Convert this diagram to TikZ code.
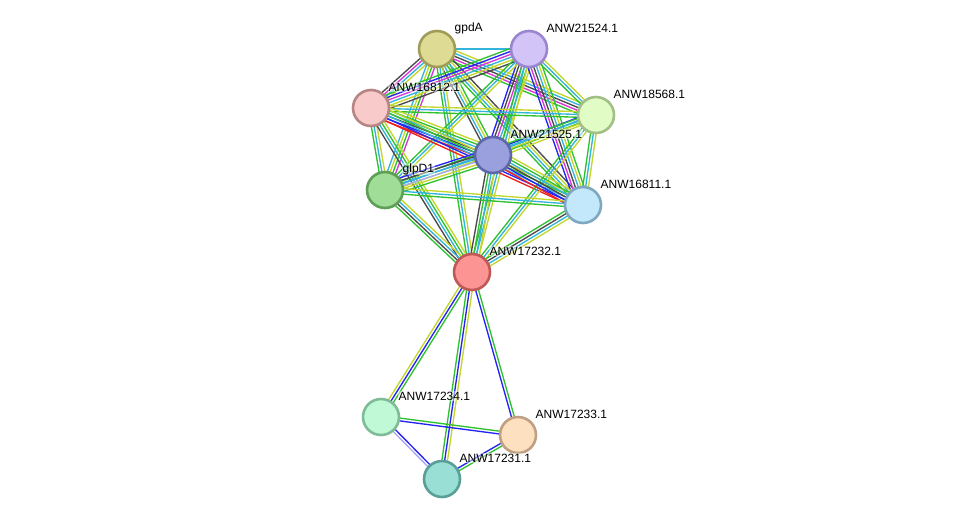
\documentclass[tikz,border=0pt]{standalone}
\usepackage{fontspec}
\setmainfont{Liberation Sans}
\usepackage{tikz}
\usetikzlibrary{positioning, calc, backgrounds}
% evidence colours
\definecolor{cGrn}{HTML}{2fc12f}
\definecolor{cYel}{HTML}{c3d62c}
\definecolor{cCyn}{HTML}{33b5d9}
\definecolor{cBlk}{HTML}{4a4a4a}
\definecolor{cBlu}{HTML}{2424f5}
\definecolor{cMag}{HTML}{d637d6}
\definecolor{cRed}{HTML}{f02020}
\definecolor{cLav}{HTML}{a8a8f0}
% protein colours
\definecolor{pGpd}{HTML}{dedb94}
\definecolor{pGpdB}{HTML}{a09d5a}
\definecolor{p524}{HTML}{d3c4f8}
\definecolor{p524B}{HTML}{9a85cf}
\definecolor{p812}{HTML}{f8caca}
\definecolor{p812B}{HTML}{b88585}
\definecolor{p568}{HTML}{e2fcc6}
\definecolor{p568B}{HTML}{a1bf86}
\definecolor{p525}{HTML}{99a0dd}
\definecolor{p525B}{HTML}{5d66a8}
\definecolor{pGlp}{HTML}{a0dd96}
\definecolor{pGlpB}{HTML}{5e9e57}
\definecolor{p811}{HTML}{c4e8fb}
\definecolor{p811B}{HTML}{7ea7c0}
\definecolor{p232}{HTML}{fc9494}
\definecolor{p232B}{HTML}{c05858}
\definecolor{p234}{HTML}{c0f9d6}
\definecolor{p234B}{HTML}{80bb98}
\definecolor{p233}{HTML}{fde0c0}
\definecolor{p233B}{HTML}{c0a083}
\definecolor{p231}{HTML}{9adfd6}
\definecolor{p231B}{HTML}{5a9f97}
\newcommand{\evid}[3]{%
  \foreach \ec [count=\ei] in {#3} {\xdef\evidN{\ei}}%
  \foreach \ec [count=\ei] in {#3} {%
    \pgfmathsetmacro{\eoff}{(\ei-(\evidN+1)/2)*2.8}%
    \draw[line width=1.35pt, draw=\ec] ($(#1)!\eoff pt!90:(#2)$) -- ($(#2)!\eoff pt!-90:(#1)$);
  }}

\begin{document}
\begin{tikzpicture}[x=1pt, y=-1pt, prot/.style={circle, minimum size=36pt, inner sep=0pt, line width=2.6pt},lbl/.style={font=\fontsize{12}{14}\selectfont, anchor=west, inner sep=0.5pt, fill=white, fill opacity=0.45, text opacity=1}]
\useasboundingbox (0,0) rectangle (976,525);
\node[prot, fill=pGpd, draw=pGpdB] (gpdA) at (437,49) {};
\node[prot, fill=p524, draw=p524B] (a524) at (529,49) {};
\node[prot, fill=p812, draw=p812B] (a812) at (371,108) {};
\node[prot, fill=p568, draw=p568B] (a568) at (596,115) {};
\node[prot, fill=p525, draw=p525B] (a525) at (493,155) {};
\node[prot, fill=pGlp, draw=pGlpB] (glpD) at (385,190) {};
\node[prot, fill=p811, draw=p811B] (a811) at (583,205) {};
\node[prot, fill=p232, draw=p232B] (a232) at (472,272) {};
\node[prot, fill=p234, draw=p234B] (a234) at (381,417) {};
\node[prot, fill=p233, draw=p233B] (a233) at (518,435) {};
\node[prot, fill=p231, draw=p231B] (a231) at (442,479) {};
\node[lbl] (gpdA-l) at ($(gpdA)+(17,-21)$) {gpdA};
\node[lbl] (a524-l) at ($(a524)+(17,-21)$) {ANW21524.1};
\node[lbl] (a812-l) at ($(a812)+(17,-21)$) {ANW16812.1};
\node[lbl] (a568-l) at ($(a568)+(17,-21)$) {ANW18568.1};
\node[lbl] (a525-l) at ($(a525)+(17,-21)$) {ANW21525.1};
\node[lbl] (glpD-l) at ($(glpD)+(17,-21)$) {glpD1};
\node[lbl] (a811-l) at ($(a811)+(17,-21)$) {ANW16811.1};
\node[lbl] (a232-l) at ($(a232)+(17,-21)$) {ANW17232.1};
\node[lbl] (a234-l) at ($(a234)+(17,-21)$) {ANW17234.1};
\node[lbl] (a233-l) at ($(a233)+(17,-21)$) {ANW17233.1};
\node[lbl] (a231-l) at ($(a231)+(17,-21)$) {ANW17231.1};
\begin{pgfonlayer}{background}
\evid{gpdA}{a524}{cCyn}
\evid{gpdA}{a812}{cBlk,cMag,cCyn,cYel}
\evid{gpdA}{a568}{cGrn,cMag,cBlk,cCyn,cYel}
\evid{gpdA}{a525}{cBlk,cCyn,cYel,cGrn}
\evid{gpdA}{glpD}{cCyn,cYel,cGrn,cMag}
\evid{gpdA}{a811}{cGrn,cCyn,cYel,cBlk}
\evid{gpdA}{a232}{cGrn,cCyn,cYel}
\evid{a524}{a812}{cGrn,cBlu,cMag,cCyn,cYel,cBlk}
\evid{a524}{a568}{cGrn,cCyn,cYel}
\evid{a524}{a525}{cBlu,cBlk,cMag,cCyn,cGrn,cYel}
\evid{a524}{glpD}{cGrn,cCyn,cYel}
\evid{a524}{a811}{cBlu,cMag,cBlk,cCyn,cYel,cGrn}
\evid{a524}{a232}{cGrn,cCyn,cYel}
\evid{a812}{a568}{cGrn,cCyn,cYel}
\evid{a812}{a525}{cRed,cBlu,cBlk,cCyn,cGrn,cYel}
\evid{a812}{glpD}{cGrn,cCyn,cYel}
\evid{a812}{a811}{cRed,cBlu,cCyn,cGrn,cYel}
\evid{a812}{a232}{cBlk,cCyn,cGrn,cYel}
\evid{a568}{a525}{cBlu,cCyn,cGrn,cYel}
\evid{a568}{glpD}{cGrn,cCyn,cYel}
\evid{a568}{a811}{cGrn,cCyn,cYel}
\evid{a568}{a232}{cGrn,cCyn,cYel}
\evid{a525}{glpD}{cBlu,cBlk,cCyn,cLav,cYel,cGrn}
\evid{a525}{a811}{cRed,cBlu,cBlk,cCyn,cGrn,cYel}
\evid{a525}{a232}{cBlk,cGrn,cCyn,cYel}
\evid{glpD}{a811}{cGrn,cCyn,cYel}
\evid{glpD}{a232}{cGrn,cBlk,cCyn,cYel}
\evid{a811}{a232}{cGrn,cBlk,cCyn,cYel}
\evid{a232}{a234}{cYel,cBlu,cGrn}
\evid{a232}{a231}{cGrn,cBlu,cYel}
\evid{a232}{a233}{cBlu,cGrn}
\evid{a234}{a233}{cBlu,cGrn}
\evid{a234}{a231}{cLav,cBlu}
\evid{a231}{a233}{cGrn,cBlu}
\end{pgfonlayer}
\end{tikzpicture}
\end{document}
